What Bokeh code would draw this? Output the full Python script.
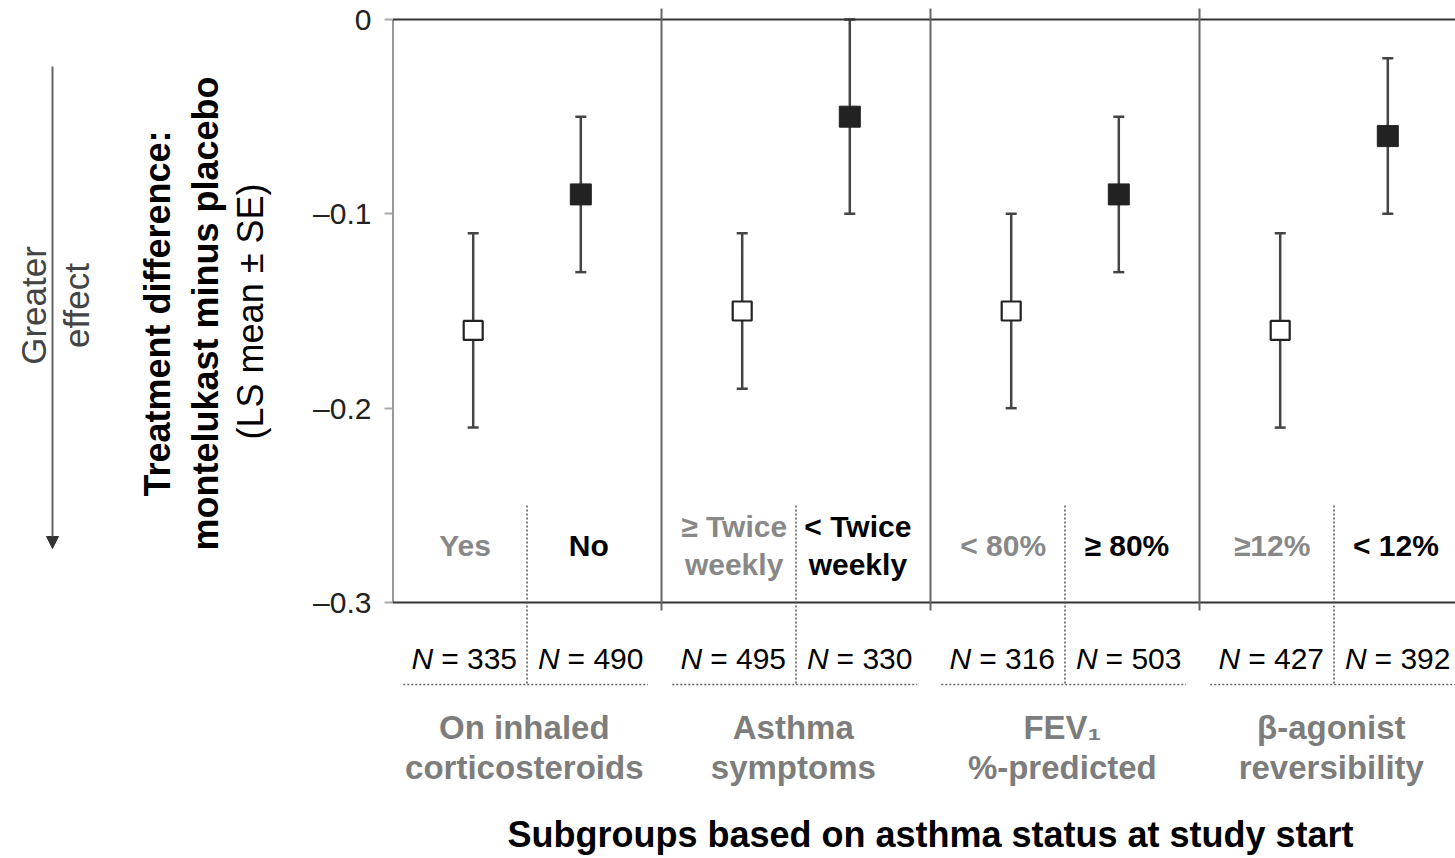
import math
from bokeh.plotting import figure
from bokeh.layouts import row
from bokeh.models import (Range1d, FixedTicker, Whisker, TeeHead, ColumnDataSource,
                          Arrow, NormalHead)
from bokeh.core.properties import value
from bokeh.embed import file_html
from bokeh.resources import INLINE

# ---------------- data ----------------
groups = ["On inhaled\ncorticosteroids", "Asthma\nsymptoms", "FEV\u2081\n%-predicted",
          "\u03b2-agonist\nreversibility"]
sub_left = ["Yes", "\u2265 Twice\nweekly", "< 80%", "\u226512%"]
sub_right = ["No", "< Twice\nweekly", "\u2265 80%", "< 12%"]
n_left = [335, 495, 316, 427]
n_right = [490, 330, 503, 392]
mean_left = [-0.16, -0.15, -0.15, -0.16]
lo_left = [-0.21, -0.19, -0.20, -0.21]
hi_left = [-0.11, -0.11, -0.10, -0.11]
mean_right = [-0.09, -0.05, -0.09, -0.06]
lo_right = [-0.13, -0.10, -0.13, -0.10]
hi_right = [-0.05, 0.00, -0.05, -0.02]
y_ticks = [0, -0.1, -0.2, -0.3]
y_tick_labels = ["0", "\u20130.1", "\u20130.2", "\u20130.3"]
x_title = "Subgroups based on asthma status at study start"
y_title = ["Treatment difference:", "montelukast minus placebo", "(LS mean \u00b1 SE)"]
side_note = ["Greater", "effect"]

# ---------------- layout ----------------
W, H = 1455, 856
SIDE_W = 290               # width of the left text panel
FRAME_X = 392              # page x of the axis / frame left
GROUP_PX = 269             # width of one group in px
ZERO_Y = 19                # page y of value 0
AX_BOTTOM_Y = 602          # page y of value -0.3
PX_PER_UNIT = (AX_BOTTOM_Y - ZERO_Y) / 0.3

def ypage(py):
    return -(py - ZERO_Y) / PX_PER_UNIT

x_end = (W - FRAME_X) / GROUP_PX
y_range = Range1d(ypage(H), ypage(0))

FONT = "'Liberation Sans', Arial, Helvetica, sans-serif"
GRAY_TXT = "#888888"
GROUP_TXT = "#7d7d7d"
DARK = "#222222"

# ---------------- main plot ----------------
p = figure(width=W - SIDE_W, height=H, output_backend="svg", toolbar_location=None,
           x_range=Range1d(0, x_end), y_range=y_range,
           min_border_left=FRAME_X - SIDE_W, min_border_right=0, min_border_top=0,
           min_border_bottom=0, x_axis_type=None)
p.outline_line_color = None
p.grid.visible = False
p.background_fill_color = "white"
p.border_fill_color = "white"

ax = p.yaxis[0]
ax.ticker = FixedTicker(ticks=y_ticks)
ax.major_label_overrides = {t: l for t, l in zip(y_ticks, y_tick_labels)}
ax.axis_line_color = None
ax.major_tick_line_color = "#aaaaaa"
ax.major_tick_line_width = 2
ax.major_tick_out = 8
ax.major_tick_in = 0
ax.minor_tick_line_color = None
ax.major_label_text_font = FONT
ax.major_label_text_font_size = "30px"
ax.major_label_text_color = DARK
ax.major_label_standoff = 13

ng = len(groups)
# box lines
p.segment(x0=[0], y0=[y_ticks[0]], x1=[0], y1=[y_ticks[-1]], line_color="#333333", line_width=2)
p.segment(x0=[0, 0], y0=[y_ticks[0], y_ticks[-1]], x1=[x_end, x_end],
          y1=[y_ticks[0], y_ticks[-1]], line_color="#333333", line_width=2)
sep_x = list(range(1, ng))
p.segment(x0=sep_x, y0=[ypage(8)] * len(sep_x), x1=sep_x, y1=[ypage(610)] * len(sep_x),
          line_color="#666666", line_width=2)
# dotted dividers
mid_x = [g + 0.5 for g in range(ng)]
p.segment(x0=mid_x, y0=[ypage(505)] * ng, x1=mid_x, y1=[ypage(685)] * ng,
          line_color="#555555", line_width=1.5, line_dash="2 2")
p.segment(x0=[g + 0.04 for g in range(ng)], y0=[ypage(684)] * ng,
          x1=[g + 0.95 for g in range(ng)], y1=[ypage(684)] * ng,
          line_color="#666666", line_width=1.5, line_dash="2 2")

# error bars + markers
xl = [g + 0.3 for g in range(ng)]
xr = [g + 0.7 for g in range(ng)]
src_l = ColumnDataSource(dict(x=xl, m=mean_left, lo=lo_left, hi=hi_left))
src_r = ColumnDataSource(dict(x=xr, m=mean_right, lo=lo_right, hi=hi_right))
for src in (src_l, src_r):
    p.add_layout(Whisker(source=src, base="x", upper="hi", lower="lo", line_color="#444444",
                         line_width=2.5,
                         upper_head=TeeHead(size=11, line_color="#444444", line_width=2.5),
                         lower_head=TeeHead(size=11, line_color="#444444", line_width=2.5)))
p.scatter("x", "m", source=src_l, marker="square", size=19, fill_color="white",
          line_color=DARK, line_width=2.2)
p.scatter("x", "m", source=src_r, marker="square", size=21, fill_color=DARK,
          line_color=DARK, line_width=1)

# subgroup labels
sub_y = ypage(545)
p.text(x=[g + 0.27 for g in range(ng)], y=[sub_y] * ng, text=sub_left,
       text_font=value(FONT), text_font_style="bold", text_font_size="30px",
       text_color=GRAY_TXT, text_align="center", text_baseline="middle", text_line_height=1.16)
p.text(x=[g + 0.73 for g in range(ng)], y=[sub_y] * ng, text=sub_right,
       text_font=value(FONT), text_font_style="bold", text_font_size="30px",
       text_color="black", text_align="center", text_baseline="middle", text_line_height=1.16)

# N labels (italic N)
n_x = [g + 0.27 for g in range(ng)] + [g + 0.74 for g in range(ng)]
n_vals = n_left + n_right
n_y = ypage(658)
p.text(x=n_x, y=[n_y] * len(n_x), text=["N"] * len(n_x), x_offset=-32,
       text_font=value(FONT), text_font_style="italic", text_font_size="30px",
       text_color="black", text_align="right", text_baseline="middle")
p.text(x=n_x, y=[n_y] * len(n_x), text=[f"= {n}" for n in n_vals], x_offset=-24,
       text_font=value(FONT), text_font_size="30px",
       text_color="black", text_align="left", text_baseline="middle")

# group labels
p.text(x=[g + 0.49 for g in range(ng)], y=[ypage(747)] * ng, text=groups,
       text_font=value(FONT), text_font_style="bold", text_font_size="33px",
       text_color=GROUP_TXT, text_align="center", text_baseline="middle", text_line_height=1.09)

# x title
p.text(x=[ng / 2], y=[ypage(834)], text=[x_title],
       text_font=value(FONT), text_font_style="bold", text_font_size="36px",
       text_color="black", text_align="center", text_baseline="middle")

# ---------------- left text panel ----------------
side = figure(width=SIDE_W, height=H, output_backend="svg", toolbar_location=None,
              x_range=Range1d(0, SIDE_W), y_range=y_range,
              min_border=0, x_axis_type=None, y_axis_type=None)
side.outline_line_color = None
side.grid.visible = False
side.background_fill_color = "white"
side.border_fill_color = "white"

yc = ypage(313)
side.text(x=[157, 205], y=[yc, yc], text=y_title[:2], angle=math.pi / 2,
          text_font=value(FONT), text_font_style="bold", text_font_size="36px",
          text_color="black", text_align="center", text_baseline="middle")
side.text(x=[250], y=[ypage(311)], text=y_title[2:], angle=math.pi / 2,
          text_font=value(FONT), text_font_size="36px",
          text_color="black", text_align="center", text_baseline="middle")
side.text(x=[33, 76], y=[ypage(305)] * 2, text=side_note, angle=math.pi / 2,
          text_font=value(FONT), text_font_size="35px",
          text_color="#444444", text_align="center", text_baseline="middle")
side.add_layout(Arrow(x_start=52, y_start=ypage(66), x_end=52, y_end=ypage(548),
                      line_color="#666666", line_width=2,
                      end=NormalHead(size=12, fill_color="#333333", line_color="#333333")))

layout = row(side, p, spacing=0)
open("out.html", "w").write(file_html(layout, INLINE))
